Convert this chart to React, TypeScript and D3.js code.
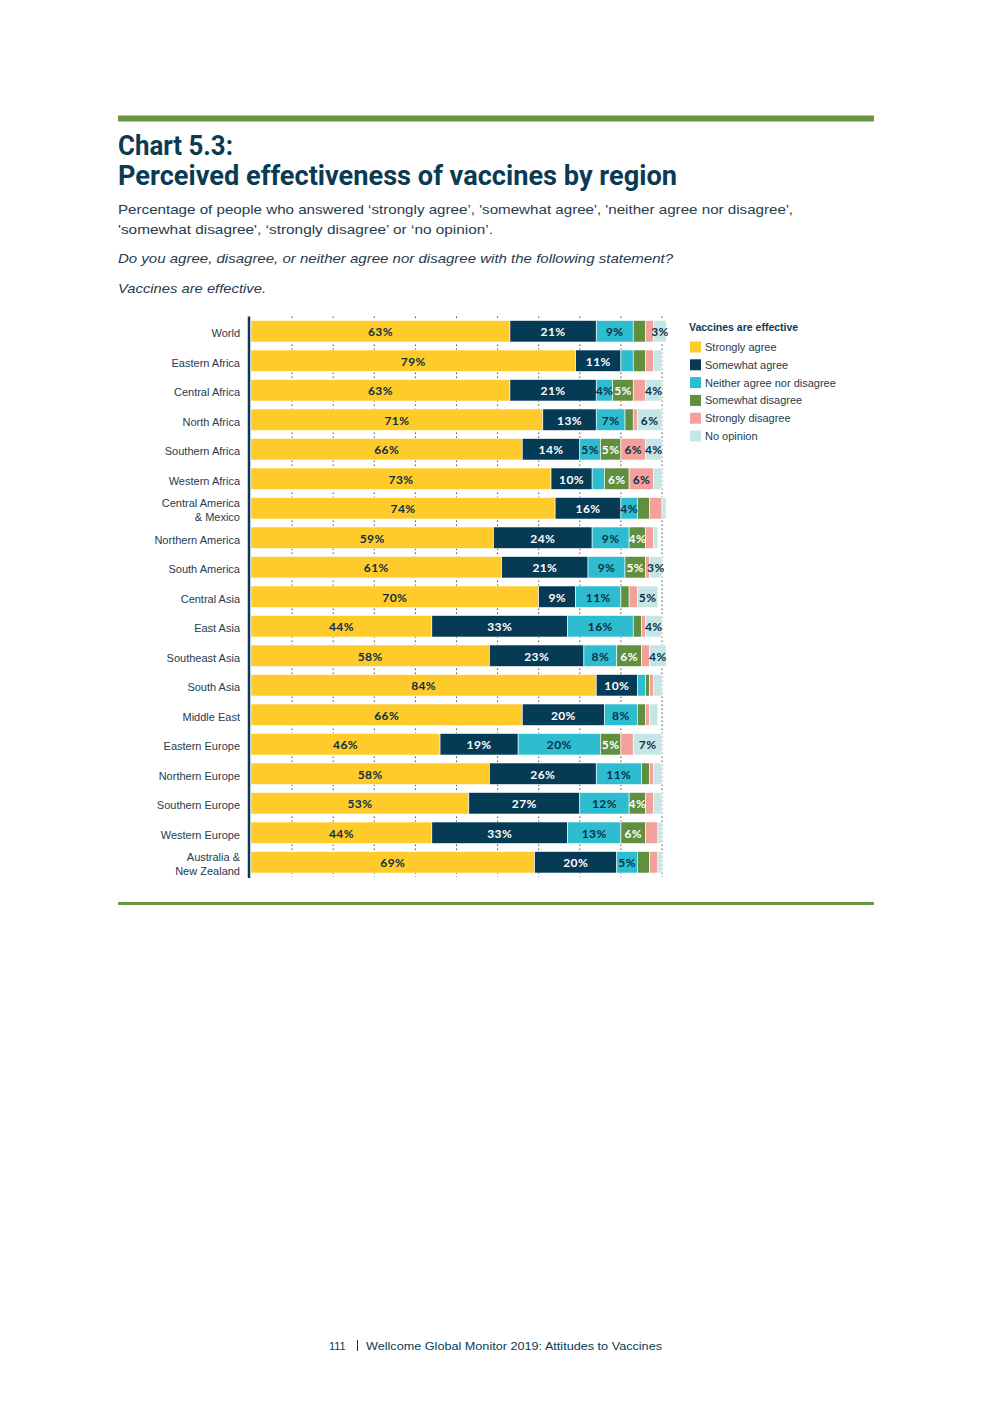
import * as d3 from "d3";

const width = 992;
const height = 1403;
const margin = { top: 316.5, left: 251, right: 662, bottom: 877 };

const regions = [
  "World",
  "Eastern Africa",
  "Central Africa",
  "North Africa",
  "Southern Africa",
  "Western Africa",
  "Central America\n& Mexico",
  "Northern America",
  "South America",
  "Central Asia",
  "East Asia",
  "Southeast Asia",
  "South Asia",
  "Middle East",
  "Eastern Europe",
  "Northern Europe",
  "Southern Europe",
  "Western Europe",
  "Australia &\nNew Zealand",
];

const stronglyAgree = [63, 79, 63, 71, 66, 73, 74, 59, 61, 70, 44, 58, 84, 66, 46, 58, 53, 44, 69];
const somewhatAgree = [21, 11, 21, 13, 14, 10, 16, 24, 21, 9, 33, 23, 10, 20, 19, 26, 27, 33, 20];
const neither = [9, 3, 4, 7, 5, 3, 4, 9, 9, 11, 16, 8, 2, 8, 20, 11, 12, 13, 5];
const somewhatDisagree = [3, 3, 5, 2, 5, 6, 3, 4, 5, 2, 2, 6, 1, 2, 5, 2, 4, 6, 3];
const stronglyDisagree = [2, 2, 3, 1, 6, 6, 3, 2, 1, 2, 1, 2, 1, 1, 3, 1, 2, 3, 2];
const noOpinion = [3, 2, 4, 6, 4, 2, 1, 1, 3, 5, 4, 4, 2, 2, 7, 2, 2, 1, 1];

const keys = ["sa", "wa", "ne", "wd", "sd", "no"];
const legendLabels = [
  "Strongly agree",
  "Somewhat agree",
  "Neither agree nor disagree",
  "Somewhat disagree",
  "Strongly disagree",
  "No opinion",
];
const colors = ["#fecb2a", "#063b55", "#2ebdd0", "#5f8f3f", "#f4a19b", "#c6e6e6"];
const labelColors = ["#0b3048", "#ffffff", "#0b3048", "#ffffff", "#0b3048", "#0b3048"];
const ticks = [10, 20, 30, 40, 50, 60, 70, 80, 90, 100];

const navy = "#0b3b52";
const textColor = "#263b4e";
const ruleGreen = "#6a9541";

const table = regions.map((r, i) => ({
  region: r,
  sa: stronglyAgree[i],
  wa: somewhatAgree[i],
  ne: neither[i],
  wd: somewhatDisagree[i],
  sd: stronglyDisagree[i],
  no: noOpinion[i],
}));

// small segments stay unlabelled, as in the source chart
const showLabel = (v: number, key: string) => v >= 4 || (key === "no" && v >= 3);

export default function App() {
  const x = d3.scaleLinear().domain([0, 100]).range([margin.left, margin.right]);
  const y = d3
    .scaleBand()
    .domain(regions)
    .range([margin.top, margin.bottom])
    .paddingInner(0.27)
    .paddingOuter(0.135);
  const stack = d3.stack<any>().keys(keys)(table);
  const bw = y.bandwidth();

  return (
    <svg
      width={width}
      height={height}
      style={{ position: "absolute", left: 0, top: 0, background: "#fff" }}
    >
      {/* header */}
      <rect x={118} y={115.5} width={756} height={6} fill={ruleGreen} />
      <text
        x={118}
        y={155}
        fontFamily="Roboto, 'DejaVu Sans'"
        fontWeight={700}
        fontSize={28}
        fill={navy}
        textLength={115}
        lengthAdjust="spacingAndGlyphs"
      >
        Chart 5.3:
      </text>
      <text
        x={118}
        y={185}
        fontFamily="Roboto, 'DejaVu Sans'"
        fontWeight={700}
        fontSize={28}
        fill={navy}
        textLength={559}
        lengthAdjust="spacingAndGlyphs"
      >
        Perceived effectiveness of vaccines by region
      </text>
      <g fontFamily="'Liberation Sans', Arial, sans-serif" fontSize={13} fill={textColor}>
        <text x={118} y={214} textLength={675} lengthAdjust="spacingAndGlyphs">
          Percentage of people who answered ‘strongly agree’, 'somewhat agree', 'neither agree nor disagree',
        </text>
        <text x={118} y={234} textLength={375} lengthAdjust="spacingAndGlyphs">
          'somewhat disagree', ‘strongly disagree’ or ‘no opinion’.
        </text>
        <text x={118} y={263} fontStyle="italic" textLength={555} lengthAdjust="spacingAndGlyphs">
          Do you agree, disagree, or neither agree nor disagree with the following statement?
        </text>
        <text x={118} y={293} fontStyle="italic" textLength={148} lengthAdjust="spacingAndGlyphs">
          Vaccines are effective.
        </text>
      </g>

      {/* grid ticks */}
      {ticks.map((t) => (
        <line
          key={t}
          x1={x(t)}
          x2={x(t)}
          y1={margin.top}
          y2={margin.bottom}
          stroke="#4a4a4a"
          strokeWidth={1}
          strokeDasharray="1.5,2.5"
        />
      ))}

      {/* bars */}
      {stack.map((s, k) => (
        <g key={s.key}>
          {s.map((d, i) => (
            <rect
              key={i}
              x={x(d[0])}
              y={y(regions[i])}
              width={x(d[1]) - x(d[0])}
              height={bw}
              fill={colors[k]}
              stroke="#fff"
              strokeWidth={0.6}
            />
          ))}
        </g>
      ))}

      {/* value labels */}
      {stack.map((s, k) => (
        <g
          key={"l" + s.key}
          fontFamily="Lato, 'Noto Sans', sans-serif"
          fontWeight={700}
          fontSize={12}
          textAnchor="middle"
          fill={labelColors[k]}
          letterSpacing={0.4}
        >
          {s.map((d, i) => {
            const v = d[1] - d[0];
            if (!showLabel(v, s.key)) return null;
            return (
              <text key={i} x={(x(d[0]) + x(d[1])) / 2} y={y(regions[i])! + bw / 2 + 5}>
                {v}%
              </text>
            );
          })}
        </g>
      ))}

      {/* axis line */}
      <line
        x1={margin.left - 2}
        x2={margin.left - 2}
        y1={margin.top}
        y2={margin.bottom + 1}
        stroke={navy}
        strokeWidth={2.5}
      />

      {/* category labels */}
      <g fontFamily="'Liberation Sans', Arial, sans-serif" fontSize={11} fill={textColor} textAnchor="end">
        {regions.map((r) => {
          const lines = r.split("\n");
          const cy = y(r)! + bw / 2;
          return lines.map((ln, j) => (
            <text key={r + j} x={240} y={cy + 6 + (j - (lines.length - 1) / 2) * 14}>
              {ln}
            </text>
          ));
        })}
      </g>

      {/* legend */}
      <g fontFamily="'Liberation Sans', Arial, sans-serif" fill={navy}>
        <text x={689} y={331} fontSize={10.5} fontWeight={700}>
          Vaccines are effective
        </text>
        {legendLabels.map((l, i) => (
          <g key={l} transform={`translate(690, ${341.5 + i * 17.8})`}>
            <rect width={11} height={11} fill={colors[i]} />
            <text x={15} y={9.5} fontSize={11} fill={textColor}>
              {l}
            </text>
          </g>
        ))}
      </g>

      {/* bottom rule */}
      <rect x={118} y={902} width={756} height={3} fill={ruleGreen} />

      {/* footer */}
      <g fontFamily="'Liberation Sans', Arial, sans-serif" fontSize={11} fill={navy}>
        <text x={329} y={1350}>111</text>
        <line x1={357.5} x2={357.5} y1={1340} y2={1351} stroke={navy} strokeWidth={1} />
        <text x={366} y={1350} textLength={296} lengthAdjust="spacingAndGlyphs">
          Wellcome Global Monitor 2019: Attitudes to Vaccines
        </text>
      </g>
    </svg>
  );
}
